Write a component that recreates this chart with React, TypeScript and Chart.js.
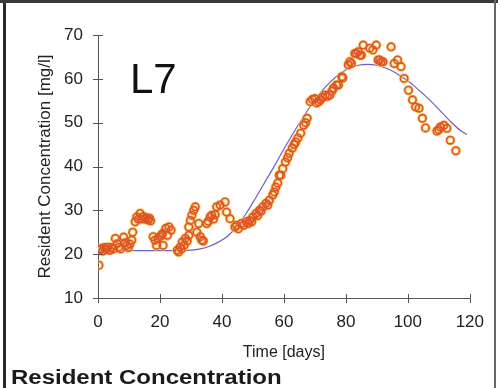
import React, { useEffect, useRef } from "react";
import { Chart, registerables } from "chart.js";

Chart.register(...registerables);

// Measured data (Time [days], Resident Concentration [mg/l])
const days = [
  0.3, 0.6, 0.9, 1.5, 2.0, 2.6, 3.2, 3.8, 4.4, 5.0, 5.6, 6.2, 6.7, 7.3, 8.3, 8.8, 9.3, 9.8, 10.3, 10.9,
  11.2, 12.0, 12.5, 13.0, 13.6, 14.0, 14.6, 15.1, 15.7, 16.2, 16.6, 17.0, 17.8, 18.4, 18.9, 19.4, 19.9, 20.5, 20.8, 21.0,
  21.9, 22.4, 22.9, 23.6,
  25.6, 26.0, 26.5, 27.0, 27.2, 27.8, 28.2, 28.8, 29.3, 29.3, 29.8, 30.3, 30.9, 31.4, 31.9, 32.5, 33.0, 33.5, 34.0, 35.1,
  35.6, 36.2, 36.7, 37.3, 37.8, 38.3, 39.4, 41.0, 41.5, 42.6, 44.2, 44.7, 45.3, 46.3, 47.0, 47.9, 48.5, 49.0, 49.6, 50.0,
  51.0, 51.5, 52.1, 52.6, 53.2, 54.2, 54.8, 55.3, 56.4, 56.9, 57.4, 58.0, 58.5,
  59.0, 59.6, 60.5, 61.2, 61.7, 62.7, 63.3, 63.8, 64.5, 65.4, 66.4, 67.0, 67.5, 68.5, 69.2, 70.0, 70.6, 71.2, 71.8, 72.5,
  73.3, 74.0, 74.8, 75.5, 76.0, 77.0, 77.6, 78.7, 79.0, 80.8, 81.3, 81.8, 82.9, 83.4, 84.0, 84.5, 85.0, 85.6, 87.7, 88.7,
  89.8, 90.4, 90.9, 91.4, 92.0, 94.6, 95.6, 96.7, 97.8, 98.8, 100.2, 101.5, 102.5, 103.6, 104.7, 105.7, 109.4, 110.0, 110.5, 111.6,
  112.6, 113.7, 115.5,
];
const conc = [
  17.5, 21.0, 21.3, 20.7, 21.5, 21.0, 21.6, 20.9, 21.5, 21.2, 23.6, 22.4, 21.6, 21.2, 23.9, 22.6, 22.0, 21.5, 22.3, 23.2,
  25.0, 27.4, 28.5, 28.0, 29.3, 28.0, 28.6, 28.0, 28.3, 27.8, 28.2, 27.6, 24.0, 23.2, 22.0, 23.6, 24.0, 24.3, 24.7, 22.0,
  25.9, 24.3, 26.2, 25.5,
  20.9, 20.5, 21.6, 21.2, 22.8, 22.0, 23.6, 23.0, 24.3, 26.2, 27.7, 28.9, 30.0, 30.8, 25.0, 27.0, 24.0, 23.2, 23.0, 27.0,
  27.5, 28.5, 28.9, 28.0, 29.0, 30.8, 31.2, 31.9, 29.6, 28.1, 26.2, 26.6, 25.8, 27.0, 26.6, 27.4, 27.0, 27.7, 27.4, 28.5,
  29.3, 28.8, 30.0, 29.8, 30.8, 31.6, 31.2, 32.3, 33.5, 34.2, 35.3, 36.2, 38.0,
  38.0, 39.5, 41.0, 42.0, 43.0, 44.2, 45.0, 45.6, 46.5, 47.6, 49.4, 50.0, 51.0, 54.8, 55.3, 55.5, 54.5, 54.8, 55.2, 55.8,
  56.3, 56.0, 56.3, 57.2, 57.9, 58.6, 58.6, 60.5, 60.2, 63.2, 63.9, 63.5, 65.8, 65.8, 66.2, 65.4, 65.4, 67.7, 67.0, 66.6,
  67.7, 64.3, 64.3, 63.9, 63.9, 67.3, 63.5, 64.3, 62.8, 60.1, 57.4, 55.2, 53.6, 53.3, 51.0, 48.8, 48.1, 48.4, 49.0, 49.4,
  48.7, 46.0, 43.6,
];

// Fitted model curve
const fitDays = [0, 5, 10, 15, 20, 25, 30, 33, 36, 39, 42, 45, 48, 51, 54, 57, 60, 63, 66, 69, 72, 75, 78, 81, 84, 87, 90, 93, 96, 99, 102, 105, 108, 111, 114, 117, 119];
const fitConc = [20.8, 20.8, 20.8, 20.8, 20.8, 20.8, 20.9, 21.2, 21.8, 22.8, 24.2, 26.5, 29.5, 33.0, 36.6, 40.2, 44.0, 47.6, 51.0, 54.2, 57.0, 59.3, 61.1, 62.4, 63.1, 63.3, 63.1, 62.4, 61.4, 60.0, 58.4, 56.5, 54.5, 52.3, 50.1, 48.2, 47.3];

const xTickValues = [0, 20, 40, 60, 80, 100, 120];
const yTickValues = [10, 20, 30, 40, 50, 60, 70];

const FONT = 'Arial, "Liberation Sans", sans-serif';

const crossTicks = {
  id: "crossTicks",
  afterDraw(chart: any) {
    const { ctx, scales } = chart;
    const x = scales.x;
    const y = scales.y;
    ctx.save();
    ctx.strokeStyle = "#555";
    ctx.lineWidth = 1;
    ctx.beginPath();
    x.ticks.forEach((t: any) => {
      const px = Math.round(x.getPixelForValue(t.value)) + 0.5;
      ctx.moveTo(px, y.bottom - 4);
      ctx.lineTo(px, y.bottom + 5);
    });
    y.ticks.forEach((t: any) => {
      const py = Math.round(y.getPixelForValue(t.value)) + 0.5;
      ctx.moveTo(x.left - 5, py);
      ctx.lineTo(x.left + 5, py);
    });
    ctx.stroke();
    ctx.restore();
  },
};

export default function App() {
  const ref = useRef<HTMLCanvasElement | null>(null);

  useEffect(() => {
    if (!ref.current) return;
    const points = days.map((d, i) => ({ x: d, y: conc[i] }));
    const fit = fitDays.map((d, i) => ({ x: d, y: fitConc[i] }));
    const chart = new Chart(ref.current, {
      type: "scatter",
      data: {
        datasets: [
          {
            type: "line",
            data: fit,
            borderColor: "#6f5fc4",
            borderWidth: 1.2,
            pointRadius: 0,
            fill: false,
            cubicInterpolationMode: "monotone",
            order: 3,
          } as any,
          {
            data: points,
            pointRadius: 3.7,
            pointBorderWidth: 3.4,
            pointBorderColor: "rgba(246,205,90,0.75)",
            pointBackgroundColor: "rgba(0,0,0,0)",
            showLine: false,
            order: 2,
          },
          {
            data: points,
            pointRadius: 3.7,
            pointBorderWidth: 1.6,
            pointBorderColor: "#e0532a",
            pointBackgroundColor: "rgba(0,0,0,0)",
            showLine: false,
            order: 1,
          },
        ],
      },
      options: {
        responsive: false,
        animation: false,
        layout: { padding: { top: 35, right: 23, bottom: 20, left: 0 } },
        plugins: { legend: { display: false }, tooltip: { enabled: false } },
        scales: {
          x: {
            type: "linear",
            min: 0,
            max: 120,
            afterFit: (s: any) => {
              s.height = 70;
            },
            afterBuildTicks: (s: any) => {
              s.ticks = xTickValues.map((v) => ({ value: v }));
            },
            grid: { display: false, drawTicks: false },
            border: { display: true, color: "#555", width: 1 },
            ticks: { color: "#222", padding: 14, font: { family: FONT, size: 17 } },
            title: {
              display: true,
              text: "Time [days]",
              color: "#222",
              font: { family: FONT, size: 16 },
              padding: { top: 0, bottom: 6 },
            },
          },
          y: {
            type: "linear",
            min: 10,
            max: 70,
            afterFit: (s: any) => {
              s.width = 98;
            },
            afterBuildTicks: (s: any) => {
              s.ticks = yTickValues.map((v) => ({ value: v }));
            },
            grid: { display: false, drawTicks: false },
            border: { display: true, color: "#555", width: 1 },
            ticks: { color: "#222", padding: 15, font: { family: FONT, size: 17 } },
            title: {
              display: true,
              text: "Resident Concentration [mg/l]",
              color: "#222",
              font: { family: FONT, size: 17 },
              padding: { top: 35, bottom: 0 },
            },
          },
        },
      },
      plugins: [crossTicks],
    });
    return () => chart.destroy();
  }, []);

  return (
    <div
      style={{
        position: "fixed",
        left: 0,
        top: 0,
        width: 498,
        height: 388,
        background: "#fff",
        overflow: "hidden",
      }}
    >
      <canvas ref={ref} width={498} height={388} style={{ position: "absolute", left: 0, top: 0, width: 498, height: 388 }} />
      <div style={{ position: "absolute", left: 3, top: 0, width: 3, height: 388, background: "#2a2a2a" }} />
      <div style={{ position: "absolute", left: 0, top: 0, width: 498, height: 3, background: "#3a3a3a" }} />
      <div style={{ position: "absolute", left: 494, top: 0, width: 2, height: 388, background: "#666" }} />
      <div
        style={{
          position: "absolute",
          left: 130,
          top: 58,
          fontFamily: FONT,
          fontSize: 42,
          lineHeight: 1,
          color: "#111",
          whiteSpace: "nowrap",
        }}
      >
        L7
      </div>
      <div
        style={{
          position: "absolute",
          left: 11,
          top: 367,
          fontFamily: FONT,
          fontSize: 20,
          fontWeight: "bold",
          lineHeight: 1,
          color: "#1a1a1a",
          whiteSpace: "nowrap",
          transform: "scaleX(1.2)",
          transformOrigin: "left top",
        }}
      >
        Resident Concentration
      </div>
    </div>
  );
}
